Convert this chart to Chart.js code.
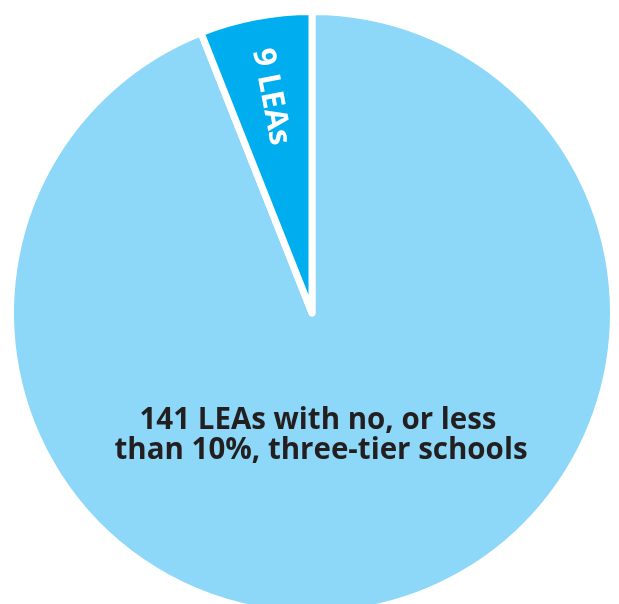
<!DOCTYPE html>
<html>
<head>
<meta charset="utf-8">
<script src="https://cdn.jsdelivr.net/npm/chart.js@4.4.1/dist/chart.umd.min.js"></script>
<style>
  html, body { margin: 0; padding: 0; background: #fff; overflow: hidden; }
  #wrap { width: 619px; height: 604px; overflow: hidden; }
  canvas { display: block; }
</style>
</head>
<body>
<div id="wrap"><canvas id="pie" width="619" height="626"></canvas></div>
<script>
// LEA counts by share of three-tier schools
const categories = ['141 LEAs with no, or less than 10%, three-tier schools', '9 LEAs'];
const leaCounts = [141, 9];
const sliceColors = ['#8dd8f8', '#00aeef'];
const sliceLabels = [['141 LEAs with no, or less', 'than 10%, three-tier schools'], ['9 LEAs']];

// draws the slice captions on top of the pie
const sliceText = {
    id: 'sliceText',
    afterDatasetsDraw(chart) {
        const ctx = chart.ctx;
        const arcs = chart.getDatasetMeta(0).data;
        ctx.save();
        ctx.textAlign = 'center';
        ctx.textBaseline = 'alphabetic';

        // big slice: text below the centre
        const big = arcs[0];
        ctx.fillStyle = '#231f20';
        ctx.font = 'bold 29.5px "Open Sans", sans-serif';
        ctx.fillText(sliceLabels[0][0], big.x + 6, big.y + 116);
        ctx.fillText(sliceLabels[0][1], big.x + 9, big.y + 146);

        // small slice: rotated along its middle angle
        const small = arcs[1];
        const mid = (small.startAngle + small.endAngle) / 2;
        const r = small.outerRadius * 0.73;
        ctx.translate(small.x + Math.cos(mid) * r, small.y + Math.sin(mid) * r);
        ctx.rotate(mid + Math.PI);
        ctx.fillStyle = '#ffffff';
        ctx.font = 'bold 31px "Open Sans", sans-serif';
        ctx.textBaseline = 'middle';
        ctx.fillText(sliceLabels[1][0], 0, 0);
        ctx.restore();
    }
};

new Chart(document.getElementById('pie'), {
    type: 'pie',
    data: {
        labels: categories,
        datasets: [{
            data: leaCounts,
            backgroundColor: sliceColors,
            borderColor: '#ffffff',
            borderWidth: 7,
            borderJoinStyle: 'round'
        }]
    },
    options: {
        responsive: false,
        animation: false,
        layout: { padding: { left: 7, right: 2, top: 8, bottom: 8 } },
        plugins: {
            legend: { display: false },
            tooltip: { enabled: false }
        }
    },
    plugins: [sliceText]
});
</script>
</body>
</html>
